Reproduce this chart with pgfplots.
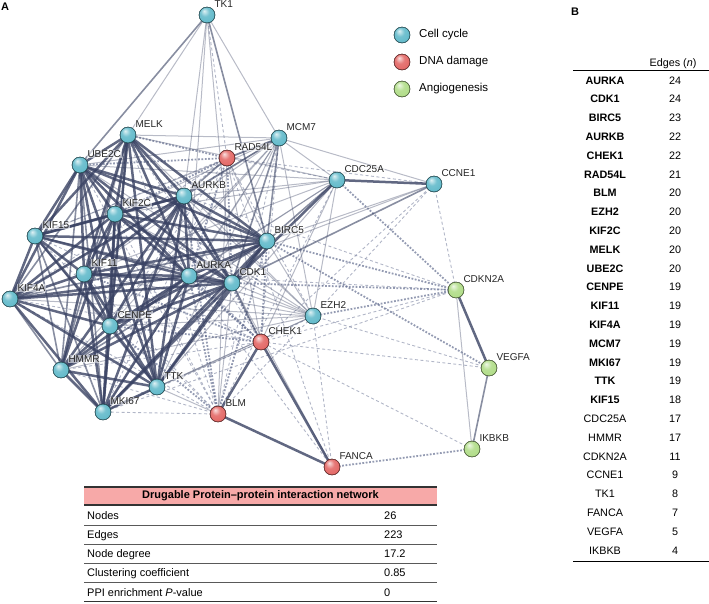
\documentclass[border=0pt]{standalone}
\usepackage{fontspec}
\setmainfont{Liberation Sans}
\usepackage{pgfplots}
\pgfplotsset{compat=1.18}

\definecolor{edgec}{HTML}{394263}
\definecolor{dashc}{HTML}{667092}
\definecolor{cyanc}{HTML}{5BB7C8}
\definecolor{redc}{HTML}{E2615F}
\definecolor{greenc}{HTML}{ADDB83}
\definecolor{hdr}{HTML}{F7A9A8}

\pgfdeclareradialshading{ballcyan}{\pgfpoint{-9bp}{13bp}}{color(0bp)=(cyanc!20!white); color(14bp)=(cyanc!85!white); color(36bp)=(cyanc); color(50bp)=(cyanc!68!black)}
\pgfdeclareradialshading{ballred}{\pgfpoint{-9bp}{13bp}}{color(0bp)=(redc!20!white); color(14bp)=(redc!85!white); color(36bp)=(redc); color(50bp)=(redc!72!black)}
\pgfdeclareradialshading{ballgreen}{\pgfpoint{-9bp}{13bp}}{color(0bp)=(greenc!20!white); color(14bp)=(greenc!85!white); color(36bp)=(greenc); color(50bp)=(greenc!72!black)}

\pgfdeclareplotmark{cyanball}{\shade[shading=ballcyan] (0pt,0pt) circle (\pgfplotmarksize);\draw[cyanc!60!black,line width=0.4pt] (0pt,0pt) circle (\pgfplotmarksize);}
\pgfdeclareplotmark{redball}{\shade[shading=ballred] (0pt,0pt) circle (\pgfplotmarksize);\draw[redc!60!black,line width=0.4pt] (0pt,0pt) circle (\pgfplotmarksize);}
\pgfdeclareplotmark{greenball}{\shade[shading=ballgreen] (0pt,0pt) circle (\pgfplotmarksize);\draw[greenc!60!black,line width=0.4pt] (0pt,0pt) circle (\pgfplotmarksize);}

\pgfplotsset{
  S1/.style={mark=none, color=edgec, line width=2.5pt, draw opacity=0.8},
  S2/.style={mark=none, color=edgec, line width=1.6pt, draw opacity=0.6},
  S3/.style={mark=none, color=edgec!80!white, line width=1.0pt, draw opacity=0.45},
  D1/.style={mark=none, color=dashc, line width=1.8pt, dash pattern=on 1.8pt off 1.6pt, draw opacity=0.7},
  D2/.style={mark=none, color=dashc!85!white, line width=0.9pt, dash pattern=on 3pt off 2.5pt, draw opacity=0.6},
  BALL/.style={only marks, mark size=8pt},
}
\tikzset{
  lbl/.style={anchor=west, xshift=6.5pt, yshift=11pt, font=\fontsize{10}{12}\selectfont, fill=white, fill opacity=0.55, text opacity=1, inner sep=0.8pt, text=black!85},
  tt/.style={anchor=base west, inner sep=0pt, font=\fontsize{11}{13}\selectfont},
  nb/.style={anchor=base, inner sep=0pt, font=\fontsize{10.8}{13}\selectfont\bfseries},
  nr/.style={anchor=base, inner sep=0pt, font=\fontsize{10.8}{13}\selectfont},
}

\newcommand\nd[3]{\expandafter\def\csname nx#1\endcsname{#2}\expandafter\def\csname ny#1\endcsname{#3}}
\newcommand\edges[2]{\foreach \a/\b in {#2}{\edef\tmp{\noexpand\addplot[#1] coordinates {(\csname nx\a\endcsname,\csname ny\a\endcsname) (\csname nx\b\endcsname,\csname ny\b\endcsname)};}\tmp}}
\newcommand\balls[2]{\foreach \n in {#2}{\edef\tmp{\noexpand\addplot[BALL, mark=#1] coordinates {(\csname nx\n\endcsname,\csname ny\n\endcsname)};}\tmp}}
\newcommand\labels[1]{\foreach \n in {#1}{\edef\tmp{\noexpand\node[lbl] at (axis cs:\csname nx\n\endcsname,\csname ny\n\endcsname) {\n};}\tmp}}

% node positions (pixels, y downwards)
\nd{TK1}{207}{15}
\nd{MELK}{128}{135}
\nd{MCM7}{279}{138}
\nd{RAD54L}{227}{158}
\nd{UBE2C}{80}{165}
\nd{CDC25A}{337}{180}
\nd{CCNE1}{434}{184}
\nd{AURKB}{184}{196}
\nd{KIF2C}{115}{214}
\nd{KIF15}{35}{236}
\nd{BIRC5}{267}{241}
\nd{KIF11}{84}{274}
\nd{AURKA}{189}{276}
\nd{CDK1}{232}{283}
\nd{KIF4A}{10}{299}
\nd{CDKN2A}{456}{290}
\nd{EZH2}{313}{316}
\nd{CENPE}{110}{326}
\nd{CHEK1}{261}{342}
\nd{VEGFA}{489}{368}
\nd{HMMR}{61}{370}
\nd{TTK}{157}{387}
\nd{MKI67}{103}{412}
\nd{BLM}{218}{414}
\nd{IKBKB}{472}{449}
\nd{FANCA}{332}{467}

\begin{document}
\begin{tikzpicture}
\begin{axis}[
  at={(0,0)}, anchor=south west,
  scale only axis, width=709pt, height=603pt,
  xmin=0, xmax=709, ymin=0, ymax=603, y dir=reverse,
  hide axis, clip=false,
]
% ---- dashed (inter-cluster) edges
\edges{D2}{CHEK1/MELK,CHEK1/UBE2C,CHEK1/KIF4A,CHEK1/MKI67,CHEK1/KIF15,CHEK1/HMMR,CHEK1/MCM7,CHEK1/EZH2,
RAD54L/CENPE,RAD54L/KIF11,RAD54L/KIF4A,RAD54L/MKI67,RAD54L/TTK,RAD54L/KIF15,RAD54L/CDC25A,RAD54L/EZH2,
BLM/KIF2C,BLM/MELK,BLM/UBE2C,BLM/KIF11,BLM/KIF4A,BLM/MKI67,BLM/KIF15,BLM/HMMR,BLM/MCM7,BLM/CDC25A,BLM/EZH2,
CCNE1/CDKN2A,CCNE1/CHEK1,CCNE1/EZH2,CCNE1/RAD54L,TK1/RAD54L,FANCA/RAD54L,FANCA/EZH2,FANCA/AURKA,
VEGFA/EZH2,VEGFA/CHEK1,IKBKB/CHEK1,CDKN2A/MKI67,CDKN2A/AURKB,CDKN2A/AURKA,CDKN2A/CHEK1}
\edges{D1}{CHEK1/AURKA,CHEK1/BIRC5,CHEK1/AURKB,CHEK1/KIF2C,CHEK1/KIF11,CHEK1/CENPE,
RAD54L/AURKA,RAD54L/CDK1,RAD54L/KIF2C,RAD54L/MELK,RAD54L/UBE2C,
BLM/AURKA,BLM/BIRC5,BLM/AURKB,BLM/CENPE,
FANCA/IKBKB,VEGFA/BIRC5,CDKN2A/CDC25A,CDKN2A/BIRC5,CDKN2A/CDK1,CDKN2A/EZH2}
% ---- light solid edges
\edges{S3}{MCM7/AURKA,MCM7/KIF2C,MCM7/MELK,MCM7/UBE2C,MCM7/CENPE,MCM7/KIF11,MCM7/KIF4A,MCM7/MKI67,MCM7/TTK,MCM7/KIF15,MCM7/HMMR,
CDC25A/AURKA,CDC25A/AURKB,CDC25A/KIF2C,CDC25A/MELK,CDC25A/UBE2C,CDC25A/CENPE,CDC25A/KIF11,CDC25A/TTK,
EZH2/AURKA,EZH2/CDK1,EZH2/BIRC5,EZH2/AURKB,EZH2/KIF2C,EZH2/MELK,EZH2/UBE2C,EZH2/CENPE,EZH2/KIF11,EZH2/KIF4A,EZH2/MKI67,EZH2/TTK,EZH2/HMMR,
MCM7/CDC25A,MCM7/EZH2,CDC25A/EZH2,CHEK1/TTK,CHEK1/CDC25A,RAD54L/BIRC5,BLM/CDK1,BLM/TTK,CHEK1/RAD54L,BLM/RAD54L,
CDKN2A/IKBKB,CCNE1/MCM7,CCNE1/BIRC5,CCNE1/AURKA,TK1/MELK,TK1/AURKB,TK1/AURKA,TK1/CDK1,TK1/MCM7,FANCA/CDK1}
% ---- medium solid edges
\edges{S2}{MELK/HMMR,MELK/MKI67,UBE2C/MKI67,KIF4A/HMMR,TTK/KIF15,MKI67/KIF15,BIRC5/KIF4A,BIRC5/HMMR,CDK1/KIF15,MELK/KIF4A,KIF15/HMMR,UBE2C/HMMR,
MCM7/CDK1,MCM7/AURKB,MCM7/BIRC5,CDC25A/BIRC5,CHEK1/CDK1,RAD54L/AURKB,RAD54L/MCM7,VEGFA/IKBKB,CCNE1/CDK1,TK1/UBE2C,TK1/BIRC5}
% ---- strong solid edges
\edges{S1}{AURKA/CDK1,AURKA/BIRC5,AURKA/AURKB,AURKA/KIF2C,AURKA/MELK,AURKA/UBE2C,AURKA/CENPE,AURKA/KIF11,AURKA/KIF4A,AURKA/MKI67,AURKA/TTK,AURKA/KIF15,AURKA/HMMR,
CDK1/BIRC5,CDK1/AURKB,CDK1/KIF2C,CDK1/MELK,CDK1/UBE2C,CDK1/CENPE,CDK1/KIF11,CDK1/KIF4A,CDK1/MKI67,CDK1/TTK,CDK1/HMMR,
BIRC5/AURKB,BIRC5/KIF2C,BIRC5/MELK,BIRC5/UBE2C,BIRC5/CENPE,BIRC5/KIF11,BIRC5/MKI67,BIRC5/TTK,BIRC5/KIF15,
AURKB/KIF2C,AURKB/MELK,AURKB/UBE2C,AURKB/CENPE,AURKB/KIF11,AURKB/KIF4A,AURKB/MKI67,AURKB/TTK,AURKB/KIF15,AURKB/HMMR,
KIF2C/MELK,KIF2C/UBE2C,KIF2C/CENPE,KIF2C/KIF11,KIF2C/KIF4A,KIF2C/MKI67,KIF2C/TTK,KIF2C/KIF15,KIF2C/HMMR,
MELK/UBE2C,MELK/CENPE,MELK/KIF11,MELK/TTK,MELK/KIF15,
UBE2C/CENPE,UBE2C/KIF11,UBE2C/KIF4A,UBE2C/TTK,UBE2C/KIF15,
CENPE/KIF11,CENPE/KIF4A,CENPE/MKI67,CENPE/TTK,CENPE/KIF15,CENPE/HMMR,
KIF11/KIF4A,KIF11/MKI67,KIF11/TTK,KIF11/KIF15,KIF11/HMMR,
KIF4A/MKI67,KIF4A/TTK,KIF4A/KIF15,MKI67/TTK,MKI67/HMMR,TTK/HMMR,
CDC25A/CDK1,CHEK1/BLM,CHEK1/FANCA,BLM/FANCA,CDKN2A/VEGFA,CCNE1/CDC25A}
% ---- nodes
\balls{cyanball}{TK1,MELK,MCM7,UBE2C,CDC25A,CCNE1,AURKB,KIF2C,KIF15,BIRC5,KIF11,AURKA,CDK1,KIF4A,EZH2,CENPE,HMMR,TTK,MKI67}
\balls{redball}{RAD54L,CHEK1,BLM,FANCA}
\balls{greenball}{CDKN2A,VEGFA,IKBKB}
\labels{TK1,MELK,MCM7,UBE2C,CDC25A,CCNE1,AURKB,KIF2C,KIF15,BIRC5,KIF11,AURKA,CDK1,KIF4A,EZH2,CENPE,HMMR,TTK,MKI67,RAD54L,CHEK1,BLM,FANCA,CDKN2A,VEGFA,IKBKB}
% ---- legend
\addplot[BALL, mark=cyanball] coordinates {(402,35)};
\addplot[BALL, mark=redball] coordinates {(402,62)};
\addplot[BALL, mark=greenball] coordinates {(402,89)};
\node[anchor=west, inner sep=0pt, font=\fontsize{11.5}{13}\selectfont] at (axis cs:419,35) {Cell cycle};
\node[anchor=west, inner sep=0pt, font=\fontsize{11.5}{13}\selectfont] at (axis cs:419,62) {DNA damage};
\node[anchor=west, inner sep=0pt, font=\fontsize{11.5}{13}\selectfont] at (axis cs:419,89) {Angiogenesis};
% ---- panel letters
\node[anchor=north west, inner sep=0pt, font=\fontsize{11}{13}\selectfont\bfseries] at (axis cs:1,3) {A};
\node[anchor=north west, inner sep=0pt, font=\fontsize{11}{13}\selectfont\bfseries] at (axis cs:571,8) {B};
% ---- table A
\fill[hdr] (axis cs:84,487) rectangle (axis cs:437,505);
\draw[line width=1.2pt, black!80] (axis cs:84,487) -- (axis cs:437,487);
\draw[line width=1.2pt, black!80] (axis cs:84,505) -- (axis cs:437,505);
\draw[line width=0.9pt, black!65] (axis cs:84,525) -- (axis cs:437,525);
\draw[line width=0.9pt, black!65] (axis cs:84,544) -- (axis cs:437,544);
\draw[line width=0.9pt, black!65] (axis cs:84,563) -- (axis cs:437,563);
\draw[line width=0.9pt, black!65] (axis cs:84,582) -- (axis cs:437,582);
\draw[line width=1.2pt, black!80] (axis cs:84,601.6) -- (axis cs:437,601.6);
\node[anchor=center, inner sep=0pt, font=\fontsize{11}{13}\selectfont\bfseries] at (axis cs:260.5,496) {Drugable Protein\textendash protein interaction network};
\node[tt] at (axis cs:87,519) {Nodes};
\node[tt] at (axis cs:87,538.5) {Edges};
\node[tt] at (axis cs:87,557.5) {Node degree};
\node[tt] at (axis cs:87,576.5) {Clustering coefficient};
\node[tt] at (axis cs:87,596) {PPI enrichment \textit{P}-value};
\node[tt] at (axis cs:384,519) {26};
\node[tt] at (axis cs:384,538.5) {223};
\node[tt] at (axis cs:384,557.5) {17.2};
\node[tt] at (axis cs:384,576.5) {0.85};
\node[tt] at (axis cs:384,596) {0};
% ---- table B
\node[nr] at (axis cs:673,66) {Edges (\textit{n})};
\draw[line width=1pt, black] (axis cs:573,70.5) -- (axis cs:709,70.5);
\draw[line width=1pt, black] (axis cs:573,561) -- (axis cs:709,561);
\node[nb] at (axis cs:605,84) {AURKA};  \node[nr] at (axis cs:675,84) {24};
\node[nb] at (axis cs:605,102.8) {CDK1};  \node[nr] at (axis cs:675,102.8) {24};
\node[nb] at (axis cs:605,121.6) {BIRC5};  \node[nr] at (axis cs:675,121.6) {23};
\node[nb] at (axis cs:605,140.4) {AURKB};  \node[nr] at (axis cs:675,140.4) {22};
\node[nb] at (axis cs:605,159.2) {CHEK1};  \node[nr] at (axis cs:675,159.2) {22};
\node[nb] at (axis cs:605,178) {RAD54L};  \node[nr] at (axis cs:675,178) {21};
\node[nb] at (axis cs:605,196.8) {BLM};  \node[nr] at (axis cs:675,196.8) {20};
\node[nb] at (axis cs:605,215.6) {EZH2};  \node[nr] at (axis cs:675,215.6) {20};
\node[nb] at (axis cs:605,234.4) {KIF2C};  \node[nr] at (axis cs:675,234.4) {20};
\node[nb] at (axis cs:605,253.2) {MELK};  \node[nr] at (axis cs:675,253.2) {20};
\node[nb] at (axis cs:605,272) {UBE2C};  \node[nr] at (axis cs:675,272) {20};
\node[nb] at (axis cs:605,290.8) {CENPE};  \node[nr] at (axis cs:675,290.8) {19};
\node[nb] at (axis cs:605,309.6) {KIF11};  \node[nr] at (axis cs:675,309.6) {19};
\node[nb] at (axis cs:605,328.4) {KIF4A};  \node[nr] at (axis cs:675,328.4) {19};
\node[nb] at (axis cs:605,347.2) {MCM7};  \node[nr] at (axis cs:675,347.2) {19};
\node[nb] at (axis cs:605,366) {MKI67};  \node[nr] at (axis cs:675,366) {19};
\node[nb] at (axis cs:605,384.8) {TTK};  \node[nr] at (axis cs:675,384.8) {19};
\node[nb] at (axis cs:605,403.6) {KIF15};  \node[nr] at (axis cs:675,403.6) {18};
\node[nr] at (axis cs:605,422.4) {CDC25A};  \node[nr] at (axis cs:675,422.4) {17};
\node[nr] at (axis cs:605,441.2) {HMMR};  \node[nr] at (axis cs:675,441.2) {17};
\node[nr] at (axis cs:605,460) {CDKN2A};  \node[nr] at (axis cs:675,460) {11};
\node[nr] at (axis cs:605,478.8) {CCNE1};  \node[nr] at (axis cs:675,478.8) {9};
\node[nr] at (axis cs:605,497.6) {TK1};  \node[nr] at (axis cs:675,497.6) {8};
\node[nr] at (axis cs:605,516.4) {FANCA};  \node[nr] at (axis cs:675,516.4) {7};
\node[nr] at (axis cs:605,535.2) {VEGFA};  \node[nr] at (axis cs:675,535.2) {5};
\node[nr] at (axis cs:605,554) {IKBKB};  \node[nr] at (axis cs:675,554) {4};
\end{axis}
\pgfresetboundingbox
\path[use as bounding box] (0,0) rectangle (709pt,603pt);
\end{tikzpicture}
\end{document}
